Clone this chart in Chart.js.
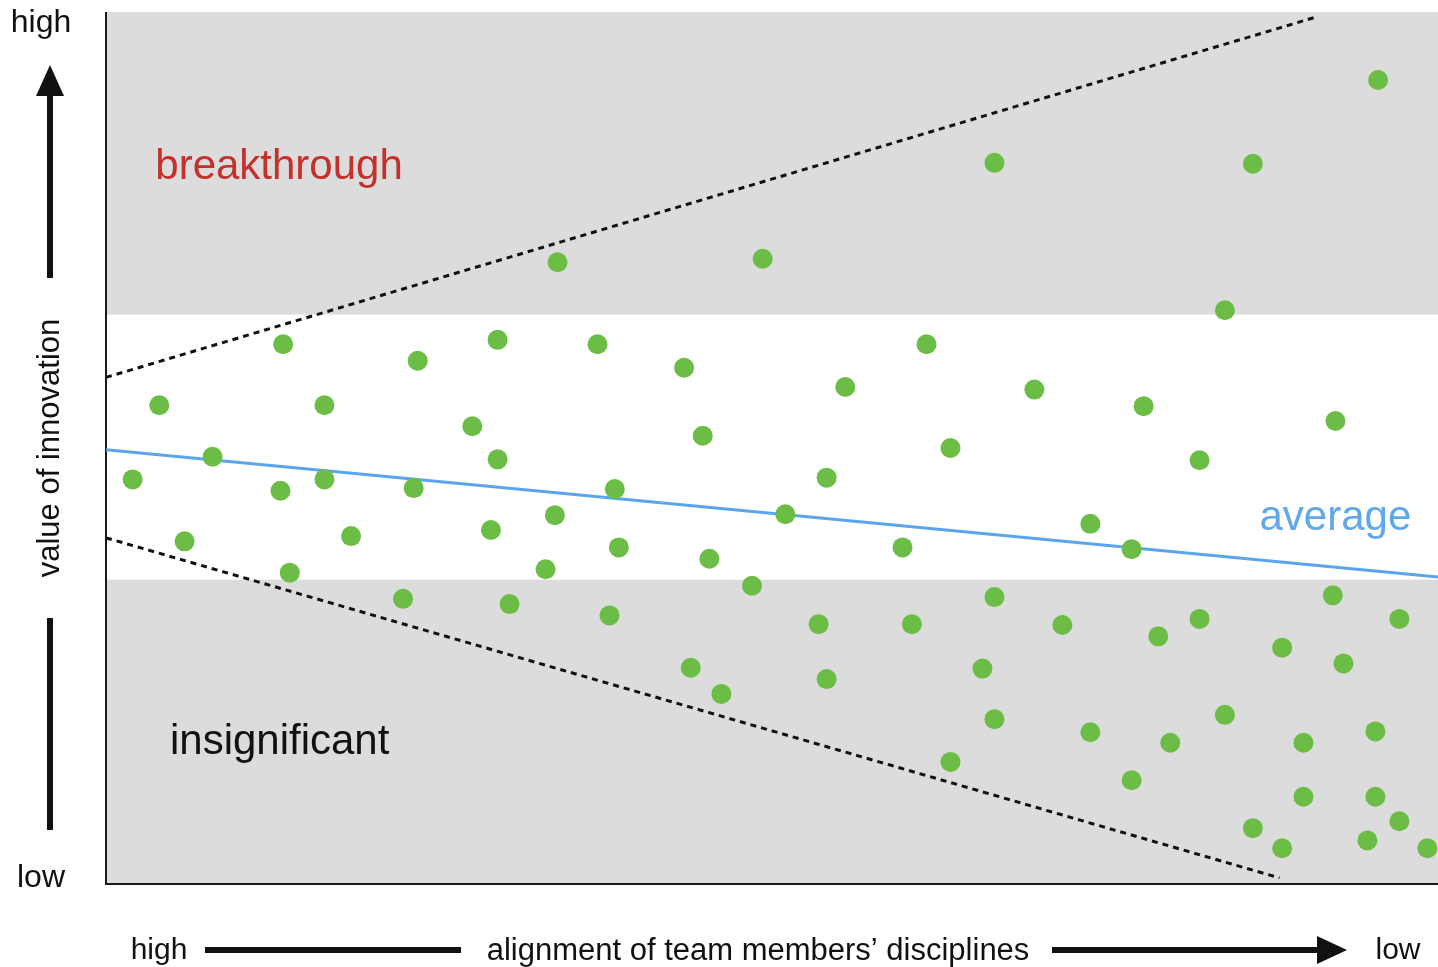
<!DOCTYPE html>
<html>
<head>
<meta charset="utf-8">
<script src="https://cdn.jsdelivr.net/npm/chart.js@4/dist/chart.umd.min.js"></script>
<style>
html,body{margin:0;padding:0;background:#fff;}
#wrap{width:1438px;height:967px;}
</style>
</head>
<body>
<div id="wrap"><canvas id="c" width="1438" height="967"></canvas></div>
<script>
// ---- data (x: 0 = high alignment, 100 = low alignment; y: 0 = low value, 100 = high value)
const xValues = [95.5,66.7,86.1,33.9,49.3,84.0,13.3,29.4,36.9,61.6,23.4,43.4,55.5,69.7,4.0,16.4,77.9,92.3,27.5,44.8,63.4,8.0,29.4,82.1,2.0,16.4,54.1,13.1,23.1,38.2,51.0,33.7,73.9,28.9,18.4,5.9,38.5,59.8,77.0,45.3,33.0,13.8,48.5,22.3,30.3,66.7,92.1,37.8,82.1,97.1,53.5,60.5,71.8,79.0,88.3,92.9,43.9,65.8,54.1,46.2,66.7,84.0,73.9,95.3,79.9,89.9,63.4,77.0,89.9,95.3,97.1,86.1,94.7,88.3,99.2];
const yValues = [92.2,82.7,82.6,71.3,71.7,65.8,61.9,62.4,61.9,61.9,60.0,59.2,57.0,56.7,54.9,54.9,54.8,53.1,52.5,51.4,50.0,49.0,48.7,48.6,46.4,46.4,46.6,45.1,45.4,45.3,42.4,42.3,41.3,40.6,39.9,39.3,38.6,38.6,38.4,37.3,36.1,35.7,34.2,32.7,32.1,32.9,33.1,30.8,30.4,30.4,29.8,29.8,29.7,28.4,27.1,25.3,24.8,24.7,23.5,21.8,18.9,19.4,17.4,17.5,16.2,16.2,14.0,11.9,10.0,10.0,7.2,6.4,5.0,4.1,4.1];
const averageX = [0, 100];
const averageY = [49.8, 35.2];
const upperX = [0, 90.8];
const upperY = [58.1, 99.4];
const lowerX = [0, 88.1];
const lowerY = [39.7, 0.7];
const bandLow = [0, 34.9];     // "insignificant" band
const bandHigh = [65.3, 100];  // "breakthrough" band
const axisLabels = { yTop: 'high', yBottom: 'low', yTitle: 'value of innovation', xLeft: 'high', xRight: 'low', xTitle: 'alignment of team members\u2019 disciplines' };
const regionLabels = [
  { text: 'breakthrough', x: 3.7, y: 82.2, color: '#c4302a' },
  { text: 'insignificant', x: 4.8, y: 16.2, color: '#111111' },
  { text: 'average', x: 86.6, y: 41.9, color: '#5fa8ea' }
];

const pts = xValues.map((x, i) => ({ x, y: yValues[i] }));
const toPts = (xs, ys) => xs.map((x, i) => ({ x, y: ys[i] }));
const FONT = '"Liberation Sans", Arial, Helvetica, sans-serif';

const decor = {
  id: 'decor',
  beforeDatasetsDraw(chart) {
    const { ctx, chartArea: a, scales: { x, y } } = chart;
    ctx.save();
    ctx.fillStyle = '#dcdcdd';
    [bandLow, bandHigh].forEach(b => {
      const t = y.getPixelForValue(b[1]), bt = y.getPixelForValue(b[0]);
      ctx.fillRect(a.left, t, a.right - a.left, bt - t);
    });
    // axis lines
    ctx.strokeStyle = '#1a1a1a';
    ctx.lineWidth = 2;
    ctx.beginPath();
    ctx.moveTo(a.left, a.top);
    ctx.lineTo(a.left, a.bottom);
    ctx.lineTo(a.right, a.bottom);
    ctx.stroke();
    // region labels
    ctx.font = '42px ' + FONT;
    ctx.textBaseline = 'middle';
    ctx.textAlign = 'left';
    regionLabels.forEach(l => {
      ctx.fillStyle = l.color;
      ctx.fillText(l.text, x.getPixelForValue(l.x), y.getPixelForValue(l.y));
    });
    ctx.restore();
  },
  afterDraw(chart) {
    const { ctx, chartArea: a } = chart;
    ctx.save();
    ctx.fillStyle = '#111';
    ctx.textBaseline = 'middle';
    ctx.font = '32px ' + FONT;
    ctx.textAlign = 'center';
    const ax = a.left - 56; // vertical arrow column
    ctx.fillText(axisLabels.yTop, 41, a.top + 11);
    ctx.fillText(axisLabels.yBottom, 41, a.bottom - 6);
    // up arrow
    ctx.fillRect(ax - 3, 95, 6, 183);
    ctx.beginPath();
    ctx.moveTo(ax, 65); ctx.lineTo(ax + 14, 96); ctx.lineTo(ax - 14, 96); ctx.closePath(); ctx.fill();
    // lower bar
    ctx.fillRect(ax - 3, 618, 6, 212);
    // y title
    ctx.save();
    ctx.translate(ax, 448);
    ctx.rotate(-Math.PI / 2);
    ctx.font = '31px ' + FONT;
    ctx.fillText(axisLabels.yTitle, 0, 0);
    ctx.restore();
    // bottom
    const by = 950;
    ctx.font = '30px ' + FONT;
    ctx.fillText(axisLabels.xLeft, 159, by + 1);
    ctx.fillText(axisLabels.xRight, 1398, by + 1);
    ctx.font = '31px ' + FONT;
    ctx.fillText(axisLabels.xTitle, 758, by + 1);
    ctx.fillRect(205, by - 3, 256, 6);
    ctx.fillRect(1052, by - 3, 268, 6);
    ctx.beginPath();
    ctx.moveTo(1347, by); ctx.lineTo(1317, by - 14); ctx.lineTo(1317, by + 14); ctx.closePath(); ctx.fill();
    ctx.restore();
  }
};

new Chart(document.getElementById('c'), {
  type: 'scatter',
  data: {
    datasets: [
      { data: pts, backgroundColor: '#6bbd45', borderWidth: 0, pointRadius: 10, pointHoverRadius: 10 },
      { data: toPts(averageX, averageY), showLine: true, borderColor: '#5aa5ec', borderWidth: 3, pointRadius: 0 },
      { data: toPts(upperX, upperY), showLine: true, borderColor: '#111', borderWidth: 3, borderDash: [6, 5], pointRadius: 0 },
      { data: toPts(lowerX, lowerY), showLine: true, borderColor: '#111', borderWidth: 3, borderDash: [6, 5], pointRadius: 0 }
    ]
  },
  options: {
    responsive: false,
    animation: false,
    devicePixelRatio: 1,
    layout: { autoPadding: false, padding: { left: 106, right: 0, top: 12, bottom: 83 } },
    plugins: { legend: { display: false }, tooltip: { enabled: false } },
    scales: {
      x: { type: 'linear', min: 0, max: 100, display: false },
      y: { type: 'linear', min: 0, max: 100, display: false }
    }
  },
  plugins: [decor]
});
</script>
</body>
</html>
